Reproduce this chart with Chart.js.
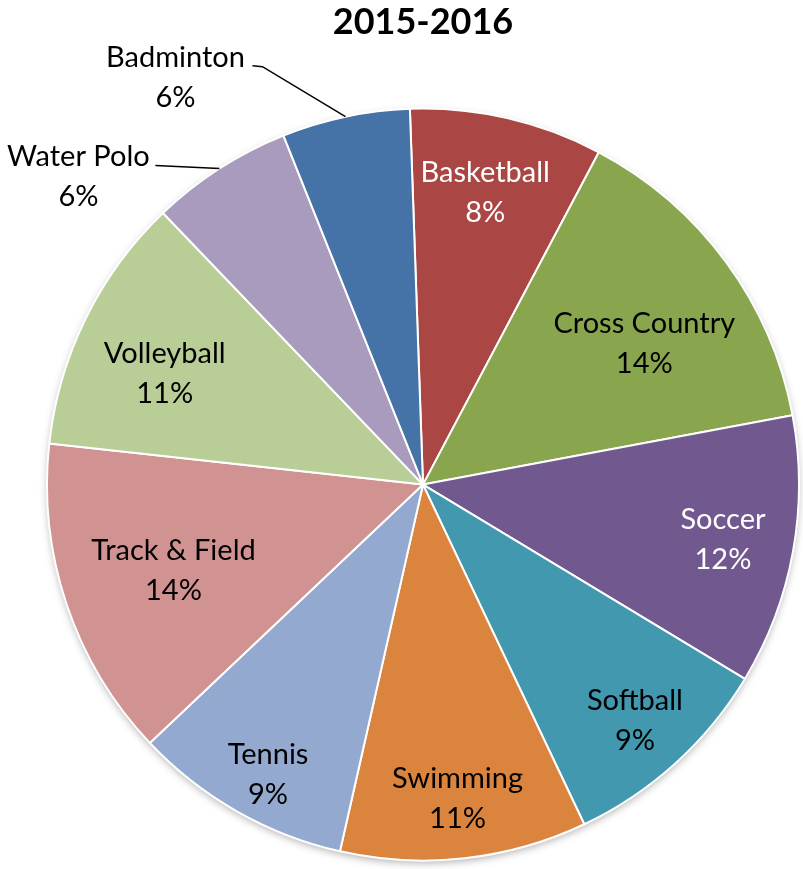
<!DOCTYPE html>
<html>
<head>
<meta charset="utf-8">
<script src="https://cdn.jsdelivr.net/npm/chart.js@4.4.1/dist/chart.umd.min.js"></script>
<style>
  html, body { margin: 0; padding: 0; background: #ffffff; }
  #wrap { width: 803px; height: 869px; }
</style>
</head>
<body>
<div id="wrap"><canvas id="c"></canvas></div>
<script>
// ---- data ----
const title = "2015-2016";
const categories = ["Basketball", "Cross Country", "Soccer", "Softball", "Swimming",
                    "Tennis", "Track & Field", "Volleyball", "Water Polo", "Badminton"];
const values = [8.3, 14.3, 11.6, 9.3, 10.6, 9.4, 13.8, 11.1, 6.1, 5.5];
const colors = ["#AA4643", "#89A54E", "#71588F", "#4198AF", "#DB843D",
                "#93A9CF", "#D19392", "#B9CD96", "#A99BBD", "#4572A7"];
const labelColors = ["#ffffff", "#000000", "#ffffff", "#000000", "#000000",
                     "#000000", "#000000", "#000000", "#000000", "#000000"];

// ---- label placement styling (not data) ----
const insideRadius = [0.80, 0.70, 0.81, 0.84, 0.835, 0.87, 0.70, 0.75];
const insideAngleShift = [-1, 3.6, -0.3, 0, 0, -1.4, 0, -2.6];
const outsideLabels = {
  8: { dx: -141, dy: 8, line: [[-64, -3]] },
  9: { dx: -170, dy: -39, line: [[-83, -50], [-93, -51]] }
};

const FONT = "Lato, 'Open Sans', sans-serif";

const shadowPlugin = {
  id: 'pieShadow',
  beforeDatasetsDraw(chart) {
    const arc = chart.getDatasetMeta(0).data[0];
    if (!arc) return;
    const ctx = chart.ctx;
    ctx.save();
    ctx.shadowColor = 'rgba(0,0,0,0.35)';
    ctx.shadowBlur = 8;
    ctx.shadowOffsetX = 0;
    ctx.shadowOffsetY = 3;
    ctx.fillStyle = '#ffffff';
    ctx.beginPath();
    ctx.arc(arc.x, arc.y, arc.outerRadius - 1, 0, Math.PI * 2);
    ctx.fill();
    ctx.restore();
  }
};

const labelPlugin = {
  id: 'sliceLabels',
  afterDatasetsDraw(chart) {
    const ctx = chart.ctx;
    const meta = chart.getDatasetMeta(0);
    const data = chart.data.datasets[0].data;
    const total = data.reduce((a, b) => a + b, 0);
    ctx.save();
    ctx.font = "29px " + FONT;
    ctx.textAlign = 'center';
    ctx.textBaseline = 'middle';
    meta.data.forEach((arc, i) => {
      const pct = Math.round(data[i] / total * 100) + '%';
      const name = chart.data.labels[i];
      const mid = (arc.startAngle + arc.endAngle) / 2;
      const R = arc.outerRadius;
      let lx, ly;
      if (outsideLabels[i]) {
        const o = outsideLabels[i];
        const ax = arc.x + Math.cos(mid) * R;
        const ay = arc.y + Math.sin(mid) * R;
        ctx.strokeStyle = '#000000';
        ctx.lineWidth = 1.5;
        ctx.beginPath();
        ctx.moveTo(ax, ay);
        o.line.forEach(p => ctx.lineTo(ax + p[0], ay + p[1]));
        ctx.stroke();
        lx = ax + o.dx;
        ly = ay + o.dy;
      } else {
        const a = mid + (insideAngleShift[i] || 0) * Math.PI / 180;
        const r = R * insideRadius[i];
        lx = arc.x + Math.cos(a) * r;
        ly = arc.y + Math.sin(a) * r + 2;
      }
      ctx.fillStyle = labelColors[i];
      ctx.fillText(name, lx, ly - 20);
      ctx.fillText(pct, lx, ly + 20);
    });
    ctx.restore();
  }
};

new Chart(document.getElementById('c'), {
  type: 'pie',
  data: {
    labels: categories,
    datasets: [{
      data: values,
      backgroundColor: colors,
      borderColor: '#ffffff',
      borderWidth: 2
    }]
  },
  options: {
    responsive: true,
    maintainAspectRatio: false,
    animation: false,
    rotation: -2,
    layout: { padding: { top: 0, left: 46, right: 3, bottom: 7 } },
    plugins: {
      legend: { display: false },
      tooltip: { enabled: false },
      title: {
        display: true,
        text: title,
        color: '#000000',
        font: { family: FONT, size: 36, weight: 'bold' },
        padding: { top: 1, bottom: 63 }
      }
    }
  },
  plugins: [shadowPlugin, labelPlugin]
});
</script>
</body>
</html>
